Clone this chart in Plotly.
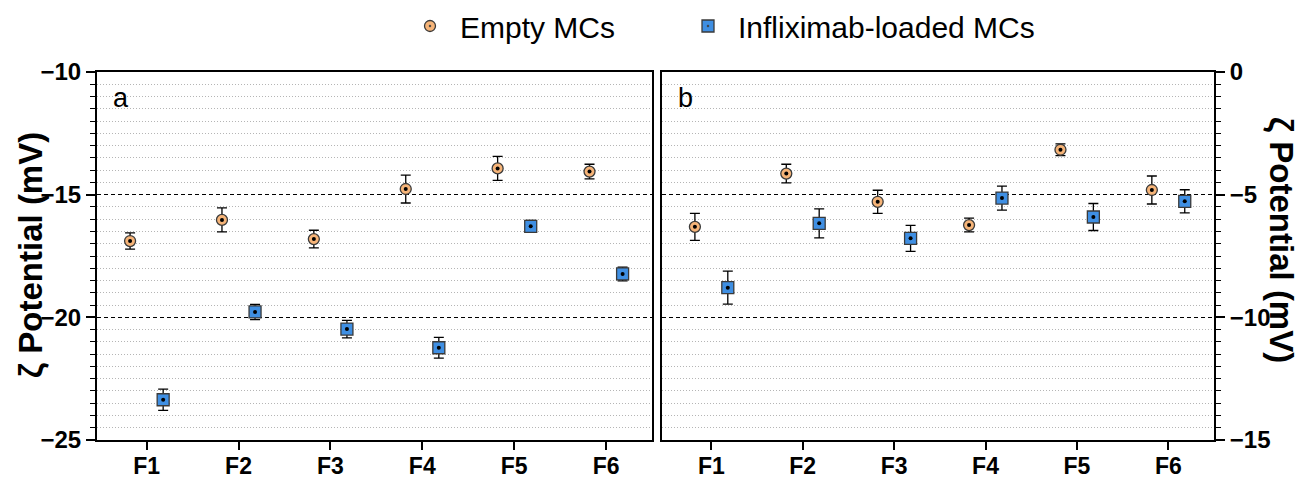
import plotly.graph_objects as go

categories = ["F1", "F2", "F3", "F4", "F5", "F6"]
series_names = ["Empty MCs", "Infliximab-loaded MCs"]

# Panel a
empty_a = [-16.89, -16.03, -16.81, -14.77, -13.93, -14.06]
empty_a_err = [0.33, 0.49, 0.36, 0.57, 0.49, 0.30]
infl_a = [-23.36, -19.78, -20.48, -21.24, -16.29, -18.23]
infl_a_err = [0.43, 0.31, 0.36, 0.42, 0.24, 0.28]

# Panel b
empty_b = [-6.31, -4.14, -5.29, -6.24, -3.17, -4.81]
empty_b_err = [0.55, 0.38, 0.47, 0.28, 0.24, 0.57]
infl_b = [-8.79, -6.17, -6.78, -5.14, -5.91, -5.27]
infl_b_err = [0.67, 0.59, 0.53, 0.49, 0.55, 0.47]

FONT = "Liberation Sans, Arial, sans-serif"
ORANGE = "#F6B478"
BLUE = "#3F8FE3"
OUTLINE = "#3a3a3a"
OFFSET = 0.18

idx = list(range(len(categories)))
x_empty = [i - OFFSET for i in idx]
x_infl = [i + OFFSET for i in idx]

fig = go.Figure()


def add_series(x, y, err, name, symbol, color, size, xa, ya, showlegend, legend):
    fig.add_trace(go.Scatter(
        x=x, y=y, mode="markers", name=name, legendgroup=name, legend=legend,
        showlegend=showlegend, xaxis=xa, yaxis=ya,
        marker=dict(symbol=symbol, size=size, color=color,
                    line=dict(color=OUTLINE, width=1.3)),
        error_y=dict(type="data", array=err, color="black",
                     thickness=1.3, width=5),
    ))
    fig.add_trace(go.Scatter(
        x=x, y=y, mode="markers", showlegend=False, hoverinfo="skip",
        legendgroup=name, legend=legend, xaxis=xa, yaxis=ya,
        marker=dict(symbol="circle", size=4, color="black"),
    ))


add_series(x_empty, empty_a, empty_a_err, series_names[0], "circle-dot", ORANGE, 11, "x", "y", True, "legend")
add_series(x_infl, infl_a, infl_a_err, series_names[1], "square-dot", BLUE, 12, "x", "y", True, "legend2")
add_series(x_empty, empty_b, empty_b_err, series_names[0], "circle-dot", ORANGE, 11, "x2", "y2", False, "legend")
add_series(x_infl, infl_b, infl_b_err, series_names[1], "square-dot", BLUE, 12, "x2", "y2", False, "legend2")

W, H = 1309, 478
ydom = [1 - 440 / H, 1 - 72 / H]

xcommon = dict(
    range=[-0.54, 5.5], tickvals=idx, ticktext=categories,
    showline=True, linecolor="black", linewidth=2, mirror=True,
    ticks="outside", ticklen=8, tickwidth=1.5, tickcolor="black",
    showgrid=False, zeroline=False, automargin=False, ticklabelstandoff=-4,
    tickfont=dict(family=FONT, size=23, color="black", weight="bold"),
)
ycommon = dict(
    dtick=5, showline=True, linecolor="black", linewidth=2, mirror=True,
    ticks="outside", ticklen=9, tickwidth=1.5, tickcolor="black",
    showgrid=True, gridcolor="black", gridwidth=1.2, griddash="4px,3px",
    zeroline=False, automargin=False,
    minor=dict(dtick=0.5, ticks="outside", ticklen=5, tickwidth=1.2,
               tickcolor="black", showgrid=True, gridcolor="#b5b5b5",
               gridwidth=1, griddash="1px,2px"),
    tickfont=dict(family=FONT, size=24, color="black", weight="bold"),
    domain=ydom,
)

legend_common = dict(orientation="h", xanchor="left", y=1.0, yanchor="top",
                     font=dict(family=FONT, size=30, color="black"),
                     itemwidth=50, bgcolor="rgba(0,0,0,0)")

fig.update_layout(
    width=W, height=H,
    margin=dict(l=0, r=0, t=0, b=0),
    paper_bgcolor="white", plot_bgcolor="white",
    font=dict(family=FONT, color="black"),
    xaxis=dict(domain=[97 / W, 652 / W], anchor="y", **xcommon),
    xaxis2=dict(domain=[662 / W, 1214 / W], anchor="y2", **xcommon),
    yaxis=dict(range=[-25, -10], anchor="x", side="left", **ycommon),
    yaxis2=dict(range=[-15, 0], anchor="x2", side="right", **ycommon),
    legend=dict(x=400 / W, **legend_common),
    legend2=dict(x=678 / W, **legend_common),
    showlegend=True,
)

fig.add_annotation(text="a", xref="x domain", yref="y domain", x=0.025, y=0.975,
                   xanchor="left", yanchor="top", showarrow=False,
                   font=dict(family=FONT, size=27, color="black"))
fig.add_annotation(text="b", xref="x2 domain", yref="y2 domain", x=0.025, y=0.975,
                   xanchor="left", yanchor="top", showarrow=False,
                   font=dict(family=FONT, size=27, color="black"))
fig.add_annotation(text="ζ Potential (mV)", xref="paper", yref="paper",
                   x=30 / W, y=1 - 255 / H, textangle=-90, showarrow=False,
                   xanchor="center", yanchor="middle",
                   font=dict(family=FONT, size=33, color="black", weight="bold"))
fig.add_annotation(text="ζ Potential (mV)", xref="paper", yref="paper",
                   x=1282 / W, y=1 - 240 / H, textangle=90, showarrow=False,
                   xanchor="center", yanchor="middle",
                   font=dict(family=FONT, size=33, color="black", weight="bold"))

fig.write_html("out.html", config={"displayModeBar": False},
               post_script="document.body.style.margin='0';")
